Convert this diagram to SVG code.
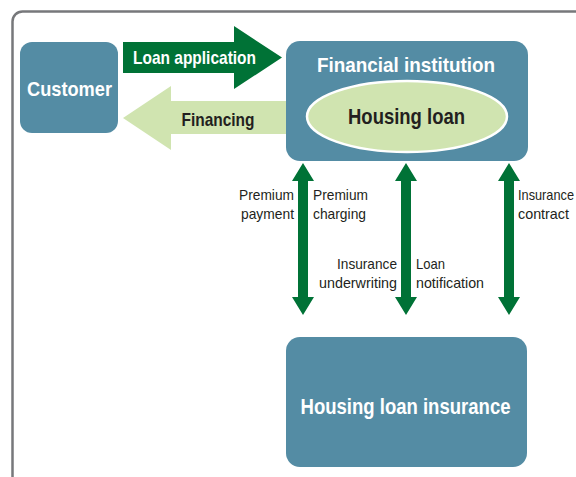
<svg xmlns="http://www.w3.org/2000/svg" width="576" height="477" viewBox="0 0 576 477">
<style>
.box{fill:#548ca4}
.t{font-family:"Liberation Sans",Arial,sans-serif;font-weight:bold;text-anchor:middle}
.w{fill:#ffffff}
.d{fill:#231f20}
.lbl{font-family:"Liberation Sans",Arial,sans-serif;font-size:15px;fill:#231f20}
.dg{fill:#007236}
.lg{fill:#d0e4b0}
</style>
<rect x="12.5" y="11.5" width="600" height="500" rx="10" fill="none" stroke="#77787b" stroke-width="2.5"/>
<g id="connectors">
<path id="loan-application" class="dg" d="M123,42 H234 V26 L282,57.5 L234,89 V73 H123 Z"/>
<path id="financing" class="lg" d="M123,118 L171,86 V101 H320 V134 H171 V150 Z"/>
<path id="v1" class="dg" d="M303,163 L314,181 H308 V297 H314 L303,315 L292,297 H298 V181 H292 Z"/>
<path id="v2" class="dg" d="M406,163 L417,181 H411 V297 H417 L406,315 L395,297 H401 V181 H395 Z"/>
<path id="v3" class="dg" d="M509,163 L520,181 H514 V297 H520 L509,315 L498,297 H504 V181 H498 Z"/>
</g>
<g id="customer">
<rect class="box" x="20" y="42" width="98" height="91" rx="12"/>
<text class="t w" x="69.5" y="96" font-size="21" textLength="85" lengthAdjust="spacingAndGlyphs">Customer</text>
</g>
<g id="financial-institution">
<rect class="box" x="286" y="41" width="242" height="120" rx="14"/>
<text class="t w" x="406" y="71.5" font-size="21" textLength="178" lengthAdjust="spacingAndGlyphs">Financial institution</text>
</g>
<g id="housing-loan">
<ellipse cx="407" cy="116.5" rx="100" ry="35.5" fill="#d0e4b0" stroke="#ffffff" stroke-width="2.5"/>
<text class="t d" x="406.5" y="124" font-size="22" textLength="117" lengthAdjust="spacingAndGlyphs">Housing loan</text>
</g>
<g id="housing-loan-insurance">
<rect class="box" x="286" y="337" width="241" height="130" rx="14"/>
<text class="t w" x="405.5" y="414" font-size="22" textLength="210" lengthAdjust="spacingAndGlyphs">Housing loan insurance</text>
</g>
<text class="t w" x="194.5" y="64" font-size="19" textLength="123" lengthAdjust="spacingAndGlyphs">Loan application</text>
<text class="t d" x="218" y="125.5" font-size="19" textLength="73" lengthAdjust="spacingAndGlyphs">Financing</text>
<text class="lbl" x="239" y="200" textLength="55" lengthAdjust="spacingAndGlyphs">Premium</text>
<text class="lbl" x="241" y="219" textLength="53" lengthAdjust="spacingAndGlyphs">payment</text>
<text class="lbl" x="313" y="200" textLength="55" lengthAdjust="spacingAndGlyphs">Premium</text>
<text class="lbl" x="313" y="219" textLength="53" lengthAdjust="spacingAndGlyphs">charging</text>
<text class="lbl" x="337" y="269" textLength="60" lengthAdjust="spacingAndGlyphs">Insurance</text>
<text class="lbl" x="319" y="288" textLength="78" lengthAdjust="spacingAndGlyphs">underwriting</text>
<text class="lbl" x="416" y="269" textLength="29" lengthAdjust="spacingAndGlyphs">Loan</text>
<text class="lbl" x="416" y="288" textLength="68" lengthAdjust="spacingAndGlyphs">notification</text>
<text class="lbl" x="518" y="200" textLength="56" lengthAdjust="spacingAndGlyphs">Insurance</text>
<text class="lbl" x="518" y="219" textLength="51" lengthAdjust="spacingAndGlyphs">contract</text>
</svg>
